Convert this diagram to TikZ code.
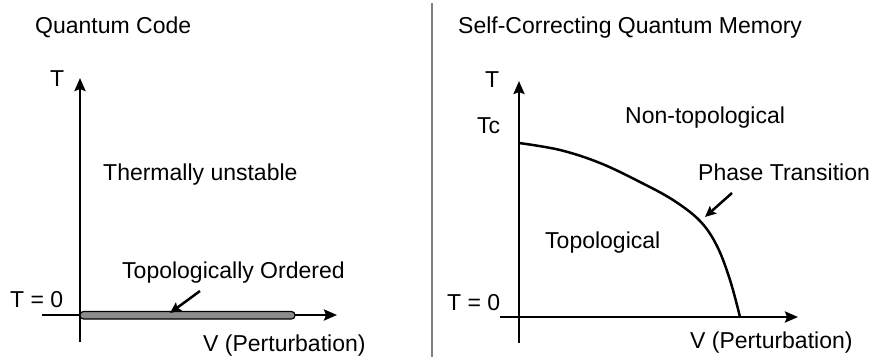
\documentclass[tikz,border=0pt]{standalone}
\usepackage{fontspec}
\setmainfont{Liberation Sans}
\usetikzlibrary{arrows.meta}
\begin{document}
\begin{tikzpicture}[x=1pt,y=-1pt,
  lbl/.style={anchor=base west,inner sep=0pt,font=\fontsize{23}{27}\selectfont},
  axis/.style={line width=2.5pt,-{Stealth[length=13pt,width=11pt,inset=2pt]}},
  pointer/.style={line width=2.5pt,-{Stealth[length=11pt,width=10pt,inset=2pt]}},
  sep/.style={line width=2.5pt,draw={rgb,255:red,128;green,128;blue,128}}]
\useasboundingbox (0,0) rectangle (872,359);
% separator
\coordinate (s1) at (432,3);
\coordinate (s2) at (432,357);
\draw[sep] (s1) -- (s2);
% titles
\node[lbl] (t1) at (35,33) {Quantum Code};
\node[lbl] (t2) at (458,33) {Self-Correcting Quantum Memory};
% left axes
\coordinate (lvb) at (80,342);
\coordinate (lvt) at (80,78);
\coordinate (lhl) at (42,315);
\coordinate (lhr) at (337,315);
\draw[axis] (lvb) -- (lvt);
\draw[axis] (lhl) -- (lhr);
\draw[line width=1.2pt,fill={rgb,255:red,140;green,140;blue,140},rounded corners=3.5pt] (80,311.5) rectangle (295,319);
\node[lbl] (lT) at (50,86) {T};
\node[lbl] (lT0) at (10,307) {T = 0};
\node[lbl] (lV) at (203,351) {V (Perturbation)};
\node[lbl] (lth) at (103,180) {Thermally unstable};
\node[lbl] (lto) at (122,278) {Topologically Ordered};
\coordinate (la1) at (200,291);
\coordinate (la2) at (170,313);
\draw[pointer] (la1) -- (la2);
% right axes
\coordinate (rvb) at (519,343);
\coordinate (rvt) at (519,81);
\coordinate (rhl) at (500,317);
\coordinate (rhr) at (798,317);
\draw[axis] (rvb) -- (rvt);
\draw[axis] (rhl) -- (rhr);
\node[lbl] (rT) at (485,87) {T};
\node[lbl] (rTc) at (477,133) {Tc};
\node[lbl] (rT0) at (447,310) {T = 0};
\node[lbl] (rV) at (690,348) {V (Perturbation)};
\node[lbl] (rnt) at (625,123) {Non-topological};
\node[lbl] (rpt) at (698,180) {Phase Transition};
\node[lbl] (rtp) at (545,248) {Topological};
\draw[line width=2.5pt] plot[smooth,tension=0.6] coordinates
  {(519,143) (560,150) (600,163) (640,182) (673,200) (700,221) (717,246) (730,280) (740,317)};
\coordinate (ra1) at (732,193);
\coordinate (ra2) at (705,217);
\draw[pointer] (ra1) -- (ra2);
\end{tikzpicture}
\end{document}
